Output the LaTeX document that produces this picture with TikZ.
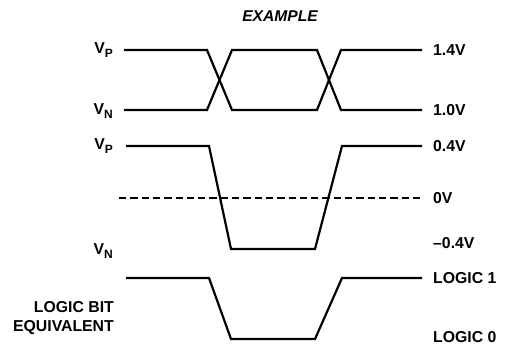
\documentclass[tikz,border=0pt]{standalone}
\usepackage{fontspec}
\setmainfont{Liberation Sans}
\usetikzlibrary{positioning}

\begin{document}
\begin{tikzpicture}[
  x=1pt, y=-1pt,
  wave/.style={line width=2.2pt, line join=miter},
  zero/.style={line width=2pt, dash pattern=on 7.3pt off 4pt},
  lab/.style={font=\fontsize{15.8}{19}\selectfont\bfseries, inner sep=0pt},
  rlab/.style={lab, anchor=west},
  llab/.style={lab, anchor=east, align=right},
]

% Frame
\useasboundingbox (0,0) rectangle (506,347);

% Title
\node[lab, font=\fontsize{15.6}{17}\selectfont\bfseries\itshape] (title) at (280,16) {EXAMPLE};

% Differential inputs (top)
\coordinate (pstart) at (124,50);
\coordinate (nstart) at (124,110);
\draw[wave] (pstart) -- (207,50) -- (232,110) -- (317,110) -- (341,50) -- (422,50) coordinate (pend);
\draw[wave] (nstart) -- (207,110) -- (232,50) -- (317,50) -- (341,110) -- (422,110) coordinate (nend);

\node[llab] (vp1) at (113,50) {V\raisebox{-0.4ex}{\fontsize{12}{12}\selectfont P}};
\node[llab] (vn1) at (113,111) {V\raisebox{-0.4ex}{\fontsize{12}{12}\selectfont N}};
\node[rlab] (hi) at (433,50) {1.4V};
\node[rlab] (lo) at (433,110) {1.0V};

% Difference signal (middle)
\coordinate (dstart) at (126,146);
\draw[wave] (dstart) -- (209,146) -- (231,249) -- (315,249) -- (342,146) -- (422,146) coordinate (dend);
\coordinate (zstart) at (119,198);
\coordinate (zend) at (422,198);
\draw[zero] (zstart) -- (zend);

\node[llab] (vp2) at (113,146) {V\raisebox{-0.4ex}{\fontsize{12}{12}\selectfont P}};
\node[llab] (vn2) at (113,251) {V\raisebox{-0.4ex}{\fontsize{12}{12}\selectfont N}};
\node[rlab] (pos) at (433,146) {0.4V};
\node[rlab] (zv) at (433,198) {0V};
\node[rlab] (neg) at (433,243) {--0.4V};

% Logic bit (bottom)
\coordinate (bstart) at (126,278);
\draw[wave] (bstart) -- (209,278) -- (231,339) -- (315,339) -- (342,278) -- (422,278) coordinate (bend);

\node[llab] (bit) at (114,318) {LOGIC BIT\\EQUIVALENT};
\node[rlab] (one) at (433,278) {LOGIC 1};
\node[rlab] (nil) at (433,337) {LOGIC 0};

\end{tikzpicture}
\end{document}
